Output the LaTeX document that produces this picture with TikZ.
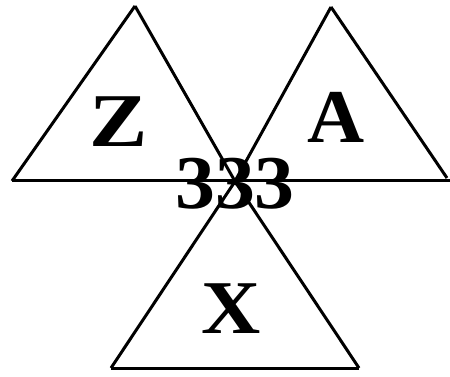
\documentclass[tikz,border=0pt]{standalone}
\usepackage{fontspec}
\setmainfont{Liberation Serif}
\begin{document}
\begin{tikzpicture}[x=1pt,y=-1pt,
  edge/.style={line width=3pt,line join=miter,line cap=butt},
  big/.style={font=\fontsize{76}{80}\selectfont\bfseries,inner sep=0pt,anchor=base}]
\useasboundingbox (0,0) rectangle (450,377);
% vertices
\coordinate (zl) at (12,181);
\coordinate (za) at (135,6);
\coordinate (aa) at (331,7);
\coordinate (ar) at (450,181);
\coordinate (c1) at (236,183);
\coordinate (c2) at (234,183);
\coordinate (xl) at (111,368);
\coordinate (xr) at (359,368);
% edges
\draw[edge] (zl) -- (ar);
\draw[edge] (zl) -- (za);
\draw[edge] (aa) -- (447,178);
\draw[edge] (za) -- (c1) -- (xr);
\draw[edge] (aa) -- (c2) -- (xl);
\draw[edge] (xl) -- (xr);
% labels
\node[big,xscale=1.15] (z) at (119,147) {Z};
\node[big,xscale=1.04] (a) at (336,143) {A};
\node[big,xscale=1.08] (x) at (231,333) {X};
\node[big,xscale=1.05] (n) at (235,208) {333};
\end{tikzpicture}
\end{document}
